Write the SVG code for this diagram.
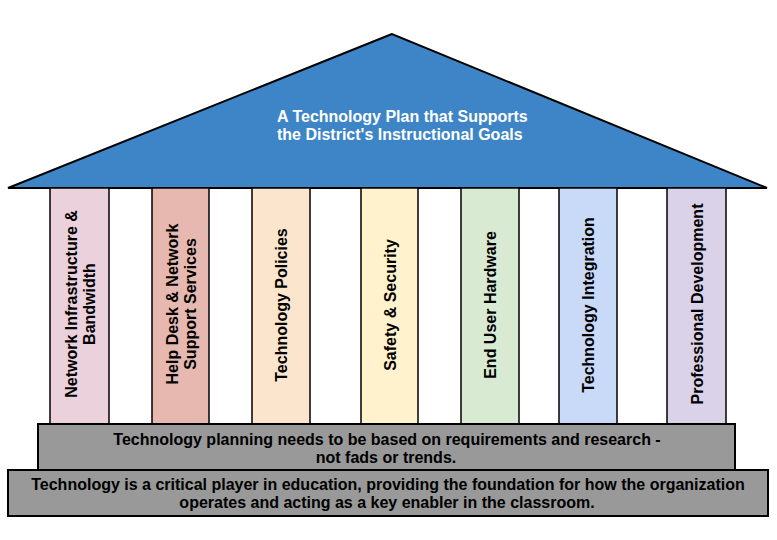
<svg xmlns="http://www.w3.org/2000/svg" width="777" height="540" viewBox="0 0 777 540">
<style>
text{font-family:"Liberation Sans",Arial,sans-serif;font-weight:bold;font-size:16px;fill:#000}
.roof{fill:#3d85c6;stroke:#000;stroke-width:2;stroke-linejoin:miter}
.roof-t{fill:#fff}
.col{stroke:#000;stroke-width:1.5}
.base{fill:#999;stroke:#000;stroke-width:2}
.c{text-anchor:middle}
</style>
<rect width="777" height="540" fill="#fff"/>
<g id="roof">
<polygon class="roof" points="392,34 8,188 767,188"/>
<text class="roof-t" x="277" y="122">A Technology Plan that Supports</text>
<text class="roof-t" x="277" y="140">the District's Instructional Goals</text>
</g>
<g id="col-network">
<rect class="col" x="50" y="188" width="59" height="236" fill="#ead1dc"/>
<text class="c" transform="translate(79.5,304) rotate(-90)"><tspan x="0" y="-3">Network Infrastructure &amp;</tspan><tspan x="0" y="15">Bandwidth</tspan></text>
</g>
<g id="col-helpdesk">
<rect class="col" x="152" y="188" width="57" height="236" fill="#e6b8af"/>
<text class="c" transform="translate(180.5,304) rotate(-90)"><tspan x="0" y="-3">Help Desk &amp; Network</tspan><tspan x="0" y="15">Support Services</tspan></text>
</g>
<g id="col-policies">
<rect class="col" x="252" y="188" width="58" height="236" fill="#fce5cd"/>
<text class="c" transform="translate(281,305) rotate(-90)" y="6">Technology Policies</text>
</g>
<g id="col-safety">
<rect class="col" x="361" y="188" width="57" height="236" fill="#fff2cc"/>
<text class="c" transform="translate(389.5,305) rotate(-90)" y="6">Safety &amp; Security</text>
</g>
<g id="col-hardware">
<rect class="col" x="461" y="188" width="58" height="236" fill="#d9ead3"/>
<text class="c" transform="translate(490,305) rotate(-90)" y="6">End User Hardware</text>
</g>
<g id="col-integration">
<rect class="col" x="559" y="188" width="58" height="236" fill="#c9daf8"/>
<text class="c" transform="translate(588,305) rotate(-90)" y="6">Technology Integration</text>
</g>
<g id="col-pd">
<rect class="col" x="667" y="188" width="59" height="236" fill="#d9d2e9"/>
<text class="c" transform="translate(696.5,304) rotate(-90)" y="6">Professional Development</text>
</g>
<g id="base-planning">
<rect class="base" x="38" y="424" width="697" height="46"/>
<text class="c" x="387" y="445">Technology planning needs to be based on requirements and research -</text>
<text class="c" x="386" y="463">not fads or trends.</text>
</g>
<g id="base-foundation">
<rect class="base" x="8" y="470" width="760" height="46"/>
<text class="c" x="388" y="490">Technology is a critical player in education, providing the foundation for how the organization</text>
<text class="c" x="387" y="508">operates and acting as a key enabler in the classroom.</text>
</g>
<g id="connectors"></g>
</svg>
